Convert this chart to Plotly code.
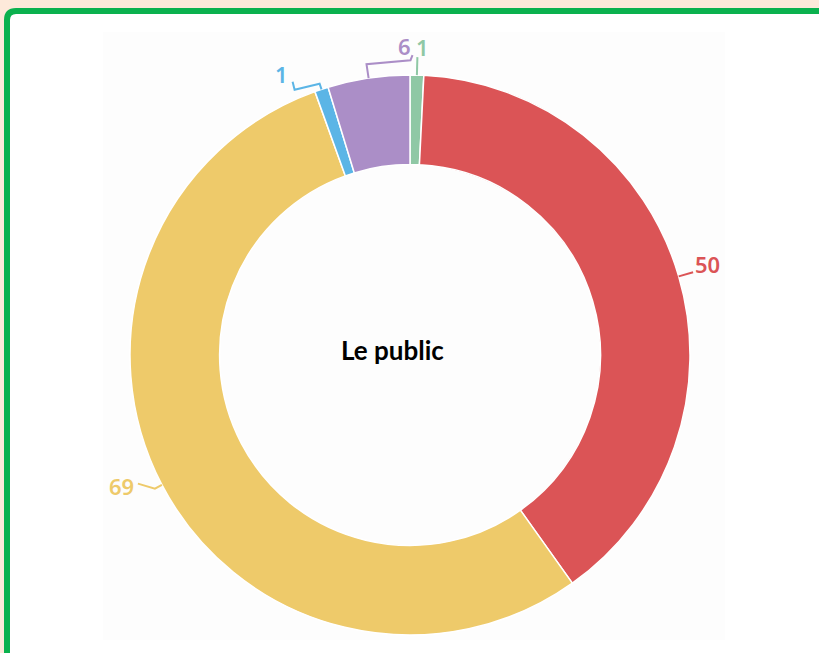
import math
import plotly.graph_objects as go

# ---- data ----
categories = ["A", "B", "C", "D", "E"]
values = [1, 50, 69, 1, 6]
colors = ["#8fc8a5", "#db5456", "#eeca6a", "#5bb5e6", "#ab8ec7"]
center_title = "Le public"

# ---- layout / style settings (pixels) ----
W, H = 819, 653
CX, CY, R = 410, 355, 280
HOLE = 0.68
# per-slice leader line (slice order: green, red, yellow, blue, purple)
L1 = [18, 15, 8, 6, 14]
extra_segs = [
    [],
    [],
    [(-17, -5)],
    [(-25, 6), (-2, -8)],
    [(44, -4), (2, -5)],
]
text_off = [(5, -10), (14, -8), (-16.5, 2.5), (-11.5, -7.5), (-8, -9)]

fig = go.Figure()

# invisible trace to build pixel axes
fig.add_trace(go.Scatter(x=[None], y=[None], mode="markers", showlegend=False, hoverinfo="skip"))

fig.add_trace(go.Pie(
    labels=categories,
    values=values,
    marker=dict(colors=colors, line=dict(color="white", width=1.5)),
    hole=HOLE,
    sort=False,
    direction="clockwise",
    rotation=0,
    textinfo="none",
    hoverinfo="label+value",
    showlegend=False,
    domain=dict(x=[(CX - R) / W, (CX + R) / W], y=[1 - (CY + R) / H, 1 - (CY - R) / H]),
))

shapes = []
# outer card: white with green rounded border
shapes.append(dict(type="path", xref="x", yref="y", layer="below",
                   path="M 7 680 L 7 20 Q 7 11 16 11 L 840 11 L 840 680 Z",
                   fillcolor="white", line=dict(color="#0bb14e", width=6)))
# faint image background
shapes.append(dict(type="rect", xref="x", yref="y", layer="below",
                   x0=103, x1=725, y0=32, y1=640, fillcolor="#fdfdfd", line=dict(width=0)))

annotations = []
total = sum(values)
cum = 0
for i, v in enumerate(values):
    mid = (cum + v / 2) / total * 2 * math.pi
    cum += v
    dx, dy = math.sin(mid), -math.cos(mid)
    x0, y0 = CX + R * dx, CY + R * dy
    x1, y1 = CX + (R + L1[i]) * dx, CY + (R + L1[i]) * dy
    pts = [(x0, y0), (x1, y1)]
    for sx, sy in extra_segs[i]:
        px, py = pts[-1]
        pts.append((px + sx, py + sy))
    path = "M " + " L ".join(f"{px:.1f} {py:.1f}" for px, py in pts)
    shapes.append(dict(type="path", xref="x", yref="y", path=path,
                       line=dict(color=colors[i], width=2)))
    ex, ey = pts[-1]
    annotations.append(dict(x=ex + text_off[i][0], y=ey + text_off[i][1], xref="x", yref="y",
                            text=str(v), showarrow=False, xanchor="center", yanchor="middle",
                            font=dict(family="Noto Sans", size=22, color=colors[i], weight=600)))

annotations.append(dict(x=392, y=350, xref="x", yref="y", text=f"<b>{center_title}</b>",
                        showarrow=False, xanchor="center", yanchor="middle",
                        font=dict(family="Lato", size=26, color="black")))

fig.update_layout(
    width=W, height=H,
    margin=dict(l=0, r=0, t=0, b=0),
    paper_bgcolor="#fde9da",
    plot_bgcolor="rgba(0,0,0,0)",
    xaxis=dict(range=[0, W], visible=False, domain=[0, 1], fixedrange=True),
    yaxis=dict(range=[H, 0], visible=False, domain=[0, 1], fixedrange=True),
    shapes=shapes,
    annotations=annotations,
)

fig.write_html("out.html", config={"displayModeBar": False},
               post_script="document.body.style.margin='0';document.body.style.overflow='hidden';")
